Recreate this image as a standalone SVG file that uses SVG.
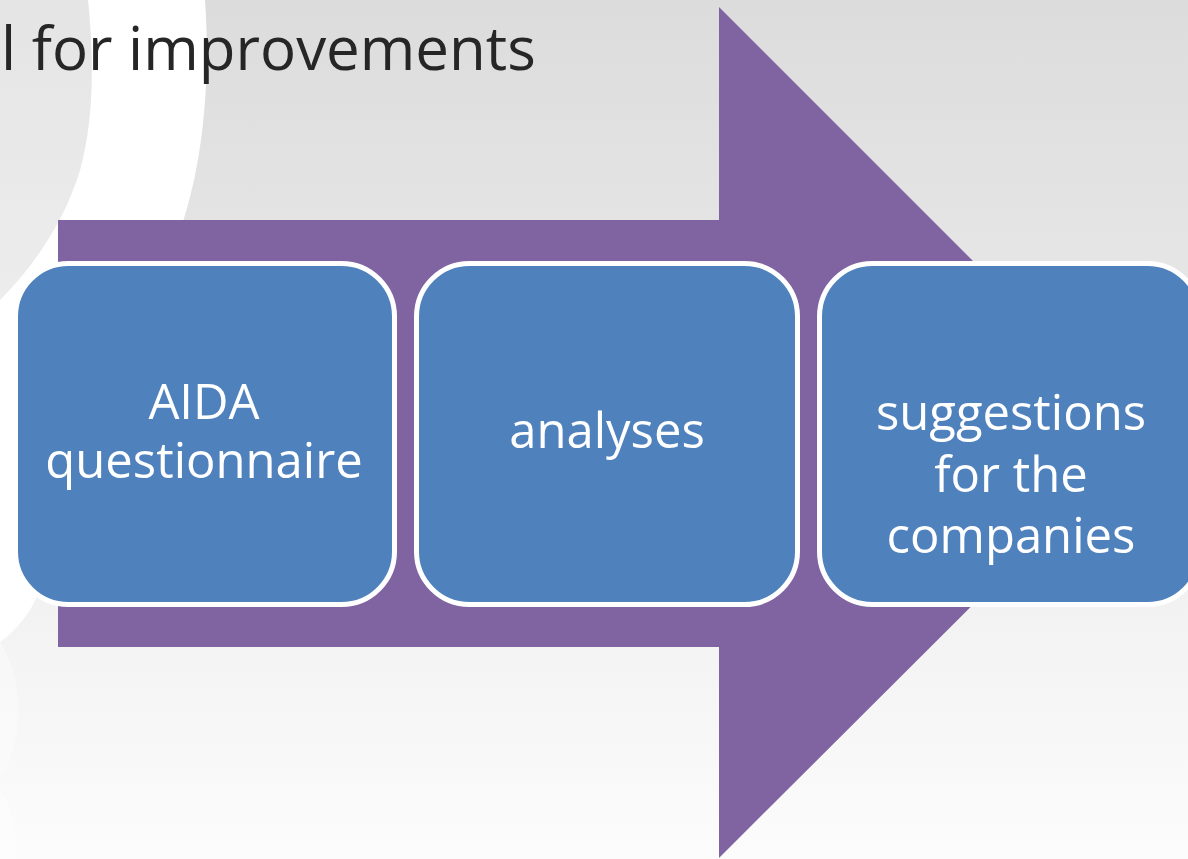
<svg xmlns="http://www.w3.org/2000/svg" width="1188" height="859" viewBox="0 0 1188 859">
  <defs>
    <linearGradient id="bg" x1="0" y1="0" x2="0" y2="1">
      <stop offset="0" stop-color="#dcdcdc"/>
      <stop offset="0.5" stop-color="#ebebeb"/>
      <stop offset="1" stop-color="#fcfcfc"/>
    </linearGradient>
  </defs>
  <style>
    .box { fill: #4f81bd; stroke: #ffffff; stroke-width: 5; }
    .lbl { font-family: "Open Sans", "Liberation Sans", sans-serif; font-size: 49px; fill: #ffffff; text-anchor: middle; }
    .title { font-family: "Open Sans", "Liberation Sans", sans-serif; font-size: 60px; fill: #262626; }
  </style>
  <rect width="1188" height="859" fill="url(#bg)"/>
  <g id="background-arc">
    <path d="M0,0 L88,0 C94,60 94,120 80,170 C65,220 35,265 0,300 Z" fill="#ffffff" opacity="0.25"/>
    <path d="M88,0 L205,0 C210,70 205,150 185,215 C150,330 80,520 30,610 C20,625 10,635 0,642 L0,300 C35,265 65,220 80,170 C94,120 94,60 88,0 Z" fill="#ffffff"/>
    <path d="M0,642 C12,660 20,690 18,720 C16,750 6,770 0,780 Z" fill="#ffffff" opacity="0.35"/>
    <path d="M0,790 C12,805 18,830 16,859 L0,859 Z" fill="#ffffff" opacity="0.4"/>
  </g>
  <g id="title">
    <text class="title" x="1" y="70">l for improvements</text>
  </g>
  <g id="connectors">
    <polygon id="process-arrow" points="58,220 719,220 719,7 1145,433 719,858 719,647 58,647" fill="#8064a2"/>
  </g>
  <g id="node-aida">
    <rect class="box" x="15.5" y="263.5" width="379" height="341" rx="53" ry="53"/>
    <text class="lbl" x="204" y="419">AIDA</text>
    <text class="lbl" x="204" y="478">questionnaire</text>
  </g>
  <g id="node-analyses">
    <rect class="box" x="416.5" y="263.5" width="381" height="341" rx="53" ry="53"/>
    <text class="lbl" x="607" y="448">analyses</text>
  </g>
  <g id="node-suggestions">
    <rect class="box" x="819.5" y="263.5" width="381" height="341" rx="53" ry="53"/>
    <text class="lbl" x="1011" y="430">suggestions</text>
    <text class="lbl" x="1011" y="492">for the</text>
    <text class="lbl" x="1011" y="553">companies</text>
  </g>
</svg>
